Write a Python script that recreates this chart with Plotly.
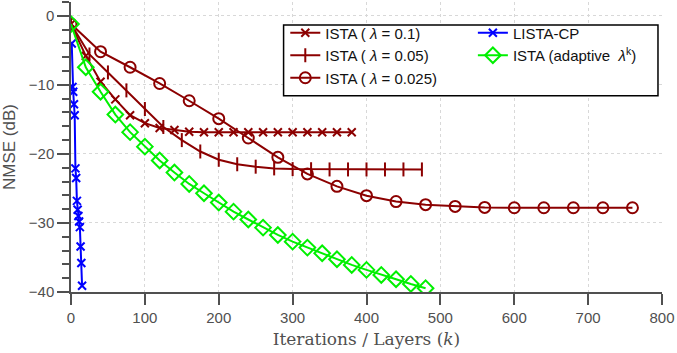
import plotly.graph_objects as go

# ISTA, lambda = 0.1  (markers every 20 iterations)
k_l01 = [0, 20, 40, 60, 80, 100, 120, 140, 160, 180, 200, 220, 240, 260, 280, 300, 320, 340, 360, 380]
nmse_l01 = [-1.2, -5.8, -9.55, -12.1, -14.4, -15.55, -16.25, -16.55, -16.8, -16.87, -16.87, -16.87,
            -16.87, -16.87, -16.87, -16.87, -16.87, -16.87, -16.87, -16.87]

# ISTA, lambda = 0.05  (markers every 25 iterations)
k_l005 = [0, 25, 50, 75, 100, 125, 150, 175, 200, 225, 250, 275, 300, 325, 350, 375, 400, 425, 450, 475]
nmse_l005 = [-1.2, -5.6, -8.2, -10.8, -13.5, -16.1, -18.0, -19.65, -20.85, -21.5, -21.85, -22.1,
             -22.2, -22.22, -22.25, -22.25, -22.25, -22.25, -22.25, -22.25]

# ISTA, lambda = 0.025  (markers every 40 iterations)
k_l0025 = [0, 40, 80, 120, 160, 200, 240, 280, 320, 360, 400, 440, 480, 520, 560, 600, 640, 680, 720, 760]
nmse_l0025 = [-1.2, -5.2, -7.45, -9.8, -12.3, -14.9, -17.7, -20.5, -22.9, -24.7, -26.05, -26.9,
              -27.35, -27.6, -27.75, -27.8, -27.8, -27.8, -27.8, -27.8]

# LISTA-CP, per layer
k_lista = [1, 2, 3, 4, 5, 6, 7, 8, 9, 10, 11, 12, 13, 14, 15]
nmse_lista = [-4.0, -10.3, -11.0, -12.8, -14.4, -22.1, -23.5, -26.8, -28.1, -29.0, -29.8, -30.6,
              -33.4, -35.8, -39.1]

# ISTA with adaptive lambda^k
k_adapt = [0, 20, 40, 60, 80, 100, 120, 140, 160, 180, 200, 220, 240, 260, 280, 300, 320, 340,
           360, 380, 400, 420, 440, 460, 480]
nmse_adapt = [-1.2, -7.45, -11.0, -14.3, -16.85, -18.95, -20.95, -22.7, -24.35, -25.7, -27.05,
              -28.36, -29.5, -30.68, -31.74, -32.71, -33.57, -34.39, -35.26, -36.08, -36.8,
              -37.53, -38.15, -38.83, -39.45]

RED = '#8c0000'
GREEN = '#00f000'
GRAY = '#505050'

fig = go.Figure()

fig.add_trace(go.Scatter(x=k_l01, y=nmse_l01, mode='lines+markers', name='ISTA ( <i>λ</i> = 0.1)',
                         line=dict(color=RED, width=2), legend='legend', legendgroup='a',
                         marker=dict(symbol='x-thin-open', size=8, line=dict(color=RED, width=2))))
fig.add_trace(go.Scatter(x=k_l005, y=nmse_l005, mode='lines+markers', name='ISTA ( <i>λ</i> = 0.05)',
                         line=dict(color=RED, width=2), legend='legend', legendgroup='b',
                         marker=dict(symbol='line-ns-open', size=10, line=dict(color=RED, width=2))))
fig.add_trace(go.Scatter(x=k_l0025, y=nmse_l0025, mode='lines+markers', name='ISTA ( <i>λ</i> = 0.025)',
                         line=dict(color=RED, width=2), legend='legend', legendgroup='c',
                         marker=dict(symbol='circle-open', size=11, line=dict(color=RED, width=2))))
fig.add_trace(go.Scatter(x=k_lista, y=nmse_lista, mode='lines+markers', name='LISTA-CP',
                         line=dict(color='#0000ff', width=2), legend='legend2', legendgroup='d',
                         marker=dict(symbol='x-thin-open', size=8, line=dict(color='#0000ff', width=2))))
fig.add_trace(go.Scatter(x=k_adapt, y=nmse_adapt, mode='lines+markers',
                         name='ISTA (adaptive\u00a0\u00a0<i>λ</i><sup>k</sup>)',
                         line=dict(color=GREEN, width=2), legend='legend2', legendgroup='e',
                         marker=dict(symbol='diamond-open', size=12, line=dict(color=GREEN, width=2))))

# legend frame
fig.add_shape(type='rect', xref='paper', yref='paper', x0=0.3597, x1=0.9932, y0=0.677, y1=0.9207,
              line=dict(color='black', width=1.5), fillcolor='white', layer='above')

legfont = dict(family='Liberation Sans', size=15, color='#111')
fig.update_layout(
    width=677, height=353,
    margin=dict(l=71, r=15, t=2, b=61),
    plot_bgcolor='white', paper_bgcolor='white',
    font=dict(family='Liberation Sans', color=GRAY),
    legend=dict(x=0.3626, y=0.95, xanchor='left', yanchor='top', bgcolor='rgba(0,0,0,0)',
                font=legfont, tracegroupgap=0),
    legend2=dict(x=0.68, y=0.95, xanchor='left', yanchor='top', bgcolor='rgba(0,0,0,0)',
                 font=legfont, tracegroupgap=0),
    xaxis=dict(range=[0, 800], dtick=100, showline=True, linecolor=GRAY, linewidth=1.5,
               ticks='outside', ticklen=11, tickwidth=1.5, tickcolor=GRAY,
               showgrid=True, gridcolor='#d8d8d8', griddash='dot', gridwidth=1, zeroline=False,
               tickfont=dict(size=15, color=GRAY),
               title=dict(text='Iterations / Layers (<i>k</i>)', standoff=8,
                          font=dict(family='DejaVu Serif', size=17, color=GRAY))),
    yaxis=dict(range=[-40, 2], dtick=10, tick0=0, showline=True, linecolor=GRAY, linewidth=1.5,
               ticks='outside', ticklen=12, tickwidth=1.5, tickcolor=GRAY,
               minor=dict(dtick=2, ticks='outside', ticklen=7, tickwidth=1.5, tickcolor=GRAY, showgrid=False),
               showgrid=True, gridcolor='#d8d8d8', griddash='dot', gridwidth=1, zeroline=False,
               tickfont=dict(size=15, color=GRAY),
               title=dict(text='NMSE (dB)', standoff=10, font=dict(size=17, color=GRAY))),
)

fig.write_html("out.html", config={'displayModeBar': False},
               post_script="document.body.style.margin='0px';")
